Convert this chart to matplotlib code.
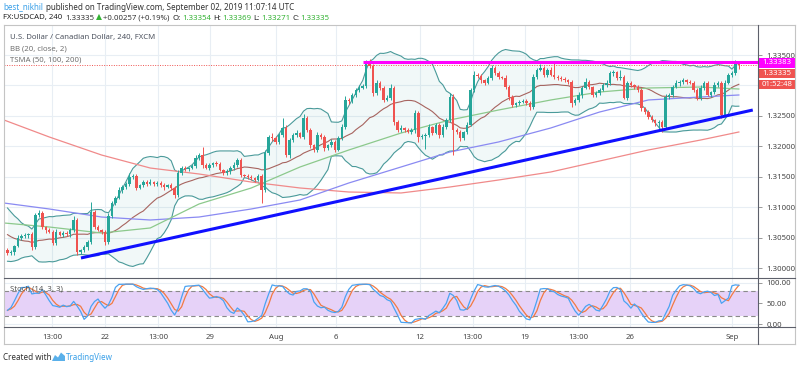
import numpy as np
import pandas as pd
import matplotlib
matplotlib.use('Agg')
import matplotlib.pyplot as plt
from matplotlib.patches import Rectangle, Polygon
from matplotlib.lines import Line2D

plt.rcParams['font.family'] = ['Noto Sans', 'DejaVu Sans']

# ---------------- data (USDCAD, 4h candles) ----------------
close = [1.30247, 1.30263, 1.30362, 1.30493, 1.30526, 1.30543, 1.30559, 1.30345, 1.30871, 1.30904,
         1.30674, 1.30625, 1.30592, 1.30411, 1.30592, 1.30543, 1.30575, 1.30559, 1.30625, 1.30789,
         1.30263, 1.30296, 1.30345, 1.30428, 1.30920, 1.30674, 1.30625, 1.30592, 1.30428, 1.30855,
         1.31068, 1.31151, 1.31282, 1.31331, 1.31381, 1.31496, 1.31512, 1.31315, 1.31364, 1.31413,
         1.31381, 1.31413, 1.31381, 1.31397, 1.31364, 1.31331, 1.31364, 1.31315, 1.31200, 1.31561,
         1.31643, 1.31627, 1.31643, 1.31676, 1.31808, 1.31857, 1.31693, 1.31643, 1.31693, 1.31726,
         1.31709, 1.31611, 1.31561, 1.31594, 1.31643, 1.31693, 1.31775, 1.31528, 1.31512, 1.31496,
         1.31479, 1.31446, 1.31512, 1.31282, 1.31890, 1.32153, 1.32136, 1.32071, 1.32186, 1.32301,
         1.31857, 1.32103, 1.32186, 1.32218, 1.32153, 1.32465, 1.32268, 1.32021, 1.31939, 1.32186,
         1.32153, 1.31972, 1.32021, 1.32071, 1.31939, 1.32136, 1.32317, 1.32761, 1.32744, 1.32843,
         1.32925, 1.32958, 1.32991, 1.33369, 1.33319, 1.32876, 1.33040, 1.32958, 1.32761, 1.32794,
         1.32958, 1.32399, 1.32268, 1.32301, 1.32268, 1.32235, 1.32268, 1.32547, 1.32153, 1.32169,
         1.32186, 1.32317, 1.32218, 1.32350, 1.32186, 1.32317, 1.32432, 1.32810, 1.32268, 1.32235,
         1.32136, 1.32235, 1.32350, 1.32925, 1.33171, 1.33155, 1.33089, 1.33040, 1.33122, 1.33286,
         1.33204, 1.33139, 1.33122, 1.32974, 1.32810, 1.32678, 1.32711, 1.32728, 1.32744, 1.32711,
         1.32646, 1.33139, 1.33254, 1.33286, 1.33171, 1.33254, 1.33171, 1.33139, 1.33122, 1.33106,
         1.33089, 1.33056, 1.32711, 1.32761, 1.32843, 1.32958, 1.33056, 1.32974, 1.32843, 1.32876,
         1.32925, 1.33007, 1.33040, 1.33204, 1.33221, 1.33122, 1.33139, 1.32794, 1.33040, 1.33007,
         1.32974, 1.32925, 1.32629, 1.32563, 1.32481, 1.32432, 1.32383, 1.32399, 1.32317, 1.32810,
         1.32843, 1.32974, 1.33040, 1.33056, 1.33089, 1.33056, 1.33040, 1.32925, 1.32794, 1.32958,
         1.33040, 1.32843, 1.32892, 1.33007, 1.33040, 1.32514, 1.33040, 1.33171, 1.33204, 1.33354,
         1.33335]
first_open = 1.30296

# wick lengths beyond the body, in pips
wick_hi = [3, 4, 2, 5, 3, 4, 2, 3, 4, 5,  3, 2, 4, 3, 5, 2, 3, 4, 3, 6,
           3, 2, 4, 3, 16, 3, 4, 2, 3, 5,  4, 3, 5, 4, 3, 6, 4, 3, 2, 4,
           3, 5, 2, 4, 3, 4, 2, 3, 4, 5,  3, 4, 2, 3, 5, 4, 13, 3, 4, 2,
           4, 3, 2, 4, 3, 5, 4, 3, 2, 3,  4, 2, 3, 4, 5, 4, 6, 3, 4, 16,
           5, 4, 3, 5, 2, 6, 4, 3, 2, 5,  3, 4, 2, 5, 3, 4, 5, 6, 3, 4,
           3, 5, 4, 5, 6, 3, 5, 4, 3, 5,  6, 4, 3, 5, 2, 3, 4, 5, 3, 4,
           3, 5, 2, 4, 3, 5, 4, 6, 5, 3,  4, 2, 5, 4, 6, 3, 4, 2, 3, 5,
           4, 3, 2, 5, 3, 4, 2, 3, 4, 3,  4, 5, 3, 6, 4, 3, 5, 20, 3, 4,
           3, 2, 4, 3, 5, 4, 6, 3, 2, 4,  3, 4, 5, 3, 4, 2, 11, 3, 4, 3,
           2, 4, 3, 2, 3, 4, 2, 3, 4, 5,  3, 4, 5, 3, 4, 2, 3, 4, 3, 5,
           4, 3, 2, 5, 4, 3, 5, 4, 3, 6,  2]
wick_lo = [4, 3, 5, 2, 4, 3, 5, 5, 3, 4,  3, 5, 2, 4, 3, 2, 4, 3, 5, 3,
           5, 4, 3, 5, 3, 4, 2, 3, 5, 4,  3, 4, 2, 5, 3, 4, 3, 4, 2, 3,
           4, 2, 3, 4, 3, 5, 2, 3, 5, 4,  3, 4, 3, 2, 4, 3, 5, 2, 3, 4,
           3, 2, 4, 3, 5, 3, 4, 3, 2, 4,  3, 4, 2, 21, 3, 4, 5, 3, 4, 3,
           4, 5, 3, 4, 2, 3, 4, 5, 3, 4,  3, 5, 4, 3, 4, 2, 3, 4, 5, 3,
           4, 3, 2, 4, 3, 5, 4, 3, 4, 2,  3, 5, 4, 3, 4, 2, 3, 5, 8, 4,
           21, 3, 4, 2, 5, 3, 4, 3, 41, 4,  5, 3, 4, 2, 3, 4, 5, 3, 2, 4,
           3, 4, 2, 3, 5, 4, 3, 4, 2, 3,  5, 3, 4, 2, 3, 4, 2, 3, 4, 3,
           4, 3, 6, 4, 3, 5, 2, 4, 3, 4,  3, 2, 4, 3, 5, 3, 4, 2, 3, 4,
           3, 4, 5, 4, 3, 4, 5, 13, 8, 4,  3, 4, 2, 5, 3, 4, 2, 3, 4, 3,
           4, 2, 3, 4, 3, 5, 3, 2, 4, 3,  6]

# closes before the visible window (only feed the Bollinger Bands)
warmup_close = [1.3098, 1.3090, 1.3082, 1.3085, 1.3074, 1.3066, 1.3071, 1.3060, 1.3052, 1.3058,
                1.3046, 1.3040, 1.3048, 1.3036, 1.3030, 1.3042, 1.3035, 1.3028, 1.3032]

ma_idx = [-1, 12, 27, 41, 55, 70, 84, 98, 113, 127, 141, 156, 170, 184, 199, 210]
sma50 = [1.30740, 1.30674, 1.30575, 1.30658, 1.31052, 1.31315, 1.31660, 1.31939,
         1.32218, 1.32432, 1.32596, 1.32761, 1.32892, 1.32958, 1.32974, 1.32941]
sma100 = [1.31068, 1.30970, 1.30838, 1.30789, 1.30838, 1.30970, 1.31118, 1.31397,
          1.31660, 1.31906, 1.32071, 1.32301, 1.32563, 1.32761, 1.32810, 1.32843]
sma200 = [1.32432, 1.32153, 1.31857, 1.31643, 1.31545, 1.31413, 1.31315, 1.31249,
          1.31233, 1.31331, 1.31446, 1.31578, 1.31758, 1.31939, 1.32103, 1.32235]

trend_idx = [21.1, 214.0]
trend_price = [1.30165, 1.32596]
resist_idx = [102.1, 215.5]
resist_level = 1.33383
last_price = 1.33335

price_ticks = [1.300, 1.305, 1.310, 1.315, 1.320, 1.325, 1.330, 1.335]
price_labels = ['1.30000', '1.30500', '1.31000', '1.31500', '1.32000', '1.32500', '', '1.33500']
time_idx = [12.8, 28.0, 43.2, 58.1, 77.1, 94.3, 118.4, 133.6, 148.6, 163.8, 178.7, 208.0]
time_labels = ['13:00', '22', '13:00', '29', 'Aug', '6', '12', '13:00', '19', '13:00', '26', 'Sep']

# ---------------- computations ----------------
c = np.array(close)
o = np.r_[first_open, c[:-1]]
h = np.maximum(o, c) + np.array(wick_hi) * 1e-4
l = np.minimum(o, c) - np.array(wick_lo) * 1e-4
x = np.arange(len(c))

s = pd.Series(warmup_close + close)
basis = s.rolling(20).mean().values[len(warmup_close):]
sd = s.rolling(20).std(ddof=0).values[len(warmup_close):]
upper, lower = basis + 2 * sd, basis - 2 * sd

hh = pd.Series(h).rolling(14, min_periods=1).max()
ll = pd.Series(l).rolling(14, min_periods=1).min()
raw = 100 * (pd.Series(c) - ll) / (hh - ll)
k = raw.rolling(3, min_periods=1).mean()
d = k.rolling(3, min_periods=1).mean()

# ---------------- figure ----------------
W, H = 800, 368
fig = plt.figure(figsize=(8, 3.68), dpi=100)
fig.patch.set_facecolor('white')
def fx(px): return px / W
def fy(py): return 1 - py / H

L_, R_ = 4, 758
ax = fig.add_axes([fx(L_), fy(278), (R_ - L_) / W, (278 - 25) / H])
axs = fig.add_axes([fx(L_), fy(327), (R_ - L_) / W, (327 - 278) / H])

grid_c = '#e8eef4'
xlim = (-1.0, 215.5)
for a in (ax, axs):
    a.set_xlim(*xlim)
    for sp in a.spines.values():
        sp.set_visible(False)
    for t in time_idx:
        a.axvline(t, color=grid_c, lw=0.8, zorder=0)

ax.set_ylim(1.29836, 1.33993)
for p in price_ticks:
    ax.axhline(p, color=grid_c, lw=0.8, zorder=0)

# Bollinger fill and lines
ax.fill_between(x, lower, upper, color='#1a8c8c', alpha=0.06, lw=0, zorder=1)
ax.plot(x, upper, color='#4a9a9a', lw=0.8, zorder=2)
ax.plot(x, lower, color='#4a9a9a', lw=0.8, zorder=2)
ax.plot(x, basis, color='#9a4a44', lw=0.8, alpha=0.85, zorder=2)

# SMAs
ax.plot(ma_idx, sma200, color='#f08a8a', lw=0.9, zorder=2)
ax.plot(ma_idx, sma100, color='#8a8af2', lw=0.9, zorder=2)
ax.plot(ma_idx, sma50, color='#8cc98c', lw=0.9, zorder=2)

# candles
up = c >= o
cols = np.where(up, '#26a69a', '#ef5350')
ax.vlines(x, l, h, colors=cols, lw=0.7, zorder=3)
body = np.maximum(np.abs(c - o), 0.00004)
ax.bar(x, body, bottom=np.minimum(o, c), width=0.7, color=cols, lw=0, zorder=4)

# drawings
ax.axhline(last_price, color='#ef5350', lw=0.7, ls=(0, (1, 1.5)), zorder=2)
ax.plot(resist_idx, [resist_level, resist_level], color='#ff00ff', lw=2.2, zorder=5, solid_capstyle='butt')
ax.plot(trend_idx, trend_price, color='#1010ff', lw=2.2, zorder=5, solid_capstyle='butt')

ax.set_xticks([])
ax.yaxis.tick_right()
ax.set_yticks(price_ticks)
ax.set_yticklabels(price_labels)
ax.tick_params(axis='y', length=3, width=0.6, color='#888888', labelsize=5.6,
               labelcolor='#444444', pad=3)

# legend texts
ax.text(6 / (R_ - L_), 1 - 12 / 253, 'U.S. Dollar / Canadian Dollar, 240, FXCM', transform=ax.transAxes,
        fontsize=5.6, color='#4c525e', va='center', ha='left')
ax.text(6 / (R_ - L_), 1 - 24 / 253, 'BB (20, close, 2)', transform=ax.transAxes,
        fontsize=5.6, color='#707070', va='center', ha='left')
ax.text(6 / (R_ - L_), 1 - 35 / 253, 'TSMA (50, 100, 200)', transform=ax.transAxes,
        fontsize=5.6, color='#707070', va='center', ha='left')

# stochastic pane
axs.set_ylim(-6.5, 111.3)
axs.axhspan(20, 80, color='#e6d2f8', lw=0, zorder=0.5)
for v in (0, 50, 100):
    axs.axhline(v, color=grid_c, lw=0.8, zorder=0)
axs.axhline(80, color='#8a8a8a', lw=0.8, ls=(0, (4, 3)), zorder=1)
axs.axhline(20, color='#8a8a8a', lw=0.8, ls=(0, (4, 3)), zorder=1)
axs.plot(x, k, color='#4aa3f2', lw=0.9, zorder=3)
axs.plot(x, d, color='#f27a42', lw=0.9, zorder=2)
axs.yaxis.tick_right()
axs.set_yticks([0, 50, 100])
axs.set_yticklabels(['0.00', '50.00', '100.00'])
axs.tick_params(axis='y', length=3, width=0.6, color='#888888', labelsize=5.6,
                labelcolor='#444444', pad=3)
axs.set_xticks(time_idx)
axs.set_xticklabels(time_labels)
axs.tick_params(axis='x', length=0, labelsize=5.6, labelcolor='#444444', pad=5)
for lab in axs.get_xticklabels():
    if lab.get_text() in ('Aug', 'Sep'):
        lab.set_fontweight('bold')
axs.text(6 / (R_ - L_), 1 - 11 / 49, 'Stoch (14, 3, 3)', transform=axs.transAxes,
         fontsize=5.6, color='#555555', va='center', ha='left', zorder=5)

# frame lines
def hline(py, x0, x1, color, lw=0.8):
    fig.add_artist(Line2D([fx(x0), fx(x1)], [fy(py), fy(py)], color=color, lw=lw, transform=fig.transFigure))
def vline(px, y0, y1, color, lw=0.8):
    fig.add_artist(Line2D([fx(px), fx(px)], [fy(y0), fy(y1)], color=color, lw=lw, transform=fig.transFigure))

hline(25, 4, 795, '#c4c4c4')
hline(344, 4, 795, '#c4c4c4')
vline(4, 25, 344, '#c4c4c4')
vline(795, 25, 344, '#c4c4c4')
vline(758, 25, 344, '#5d606b')
hline(278, 4, 795, '#5d606b')
hline(327, 4, 795, '#5d606b')

# right-axis price boxes
def pbox(py, txt, color):
    fig.add_artist(Rectangle((fx(758.5), fy(py + 4.5)), 36 / W, 9 / H, facecolor=color,
                             edgecolor='none', transform=fig.transFigure))
    fig.text(fx(777), fy(py), txt, color='white', fontsize=5.6, ha='center', va='center')

pbox(63, '1.33383', '#ff00ff')
pbox(73.5, '1.33335', '#ef5350')
pbox(84.5, '01:52:48', '#ef5350')

# header
fig.canvas.draw()
renderer = fig.canvas.get_renderer()

def seq(px, py, parts, size=5.8):
    xx = px
    for txt, color, weight, gap in parts:
        t = fig.text(fx(xx), fy(py), txt, color=color, fontsize=size, fontweight=weight,
                     ha='left', va='center')
        bb = t.get_window_extent(renderer=renderer)
        xx += bb.width + gap

green = '#33b233'
seq(3, 7, [('best_nikhil', '#3aa0e8', 'normal', 3),
           ('published on TradingView.com, September 02, 2019 11:07:14 UTC', '#333333', 'normal', 0)])
seq(3, 18, [('FX:USDCAD, 240', '#222222', 'bold', 3),
            ('1.33335', '#333333', 'normal', 2),
            ('▲', green, 'normal', 1),
            ('+0.00257 (+0.19%)', '#333333', 'normal', 3),
            ('O:', '#222222', 'bold', 1), ('1.33354', green, 'normal', 2.5),
            ('H:', '#222222', 'bold', 1), ('1.33369', green, 'normal', 2.5),
            ('L:', '#222222', 'bold', 1), ('1.33271', green, 'normal', 2.5),
            ('C:', '#222222', 'bold', 1), ('1.33335', green, 'normal', 0)], size=5.6)

# footer
fig.text(fx(3), fy(357), 'Created with', color='#333333', fontsize=5.8, ha='left', va='center')
fig.add_artist(Polygon([(fx(52), fy(361)), (fx(55), fy(355)), (fx(58), fy(357.5)), (fx(61), fy(352.5)),
                        (fx(65), fy(356)), (fx(65), fy(361))], closed=True, facecolor='#5ab0ea',
                       edgecolor='none', transform=fig.transFigure))
fig.text(fx(66), fy(357), 'TradingView', color='#3aa0e8', fontsize=5.8, ha='left', va='center')

fig.savefig('out.png', dpi=100, facecolor='white')
